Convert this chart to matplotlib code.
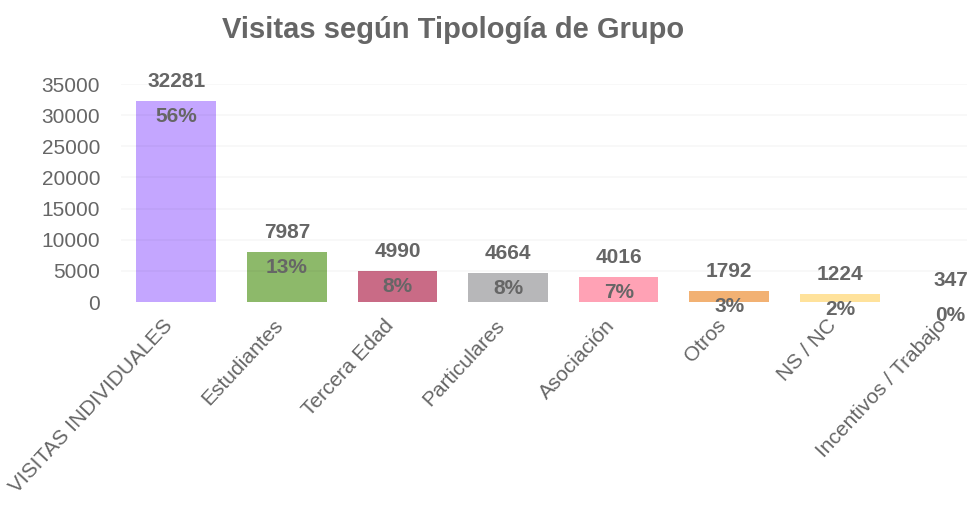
import matplotlib
matplotlib.use("Agg")
import matplotlib.pyplot as plt

plt.rcParams['font.family'] = ['Liberation Sans', 'DejaVu Sans']

categorias = ['VISITAS INDIVIDUALES', 'Estudiantes', 'Tercera Edad', 'Particulares',
              'Asociación', 'Otros', 'NS / NC', 'Incentivos / Trabajo']
visitas = [32281, 7987, 4990, 4664, 4016, 1792, 1224, 347]
porcentajes = ['56%', '13%', '8%', '8%', '7%', '3%', '2%', '0%']
colores = ['#C4A6FF', '#8DB96A', '#C96B86', '#B7B7B9', '#FFA2B5', '#F2B173', '#FFE29B', '#FFFFFF']
yticks = [0, 5000, 10000, 15000, 20000, 25000, 30000, 35000]

gris = '#666666'

fig = plt.figure(figsize=(9.67, 5.09), dpi=100)
ax = fig.add_axes([121 / 967, 207 / 509, (967 - 121) / 967, 218 / 509])

x = range(len(categorias))
ax.bar(x, visitas, width=0.72, color=colores, zorder=2)

# lineas de rejilla casi invisibles, solo se notan sobre las barras
for t in yticks[1:]:
    ax.axhline(t, color=(0, 0, 0, 0.03), lw=1.2, zorder=3)

for i, v in enumerate(visitas):
    ax.annotate(str(v), (i, v), xytext=(0, 14), textcoords='offset points',
                ha='center', va='center', fontsize=15, fontweight='bold',
                color=gris, annotation_clip=False)
    ax.annotate(porcentajes[i], (i, v), xytext=(0, -11), textcoords='offset points',
                ha='center', va='center', fontsize=15, fontweight='bold',
                color=gris, annotation_clip=False, zorder=4)

ax.set_xlim(-0.5, 7.15)
ax.set_ylim(0, 35000)
ax.set_yticks(yticks)
ax.set_yticklabels([str(t) for t in yticks], fontsize=15, color=gris)
ax.set_xticks(list(x))
ax.set_xticklabels(categorias, rotation=47, ha='right', fontsize=15, color=gris)
ax.tick_params(length=0, pad=10)
ax.tick_params(axis='y', pad=15)
for s in ax.spines.values():
    s.set_visible(False)

fig.text(453 / 967, 1 - 30 / 509, 'Visitas según Tipología de Grupo', ha='center', va='center',
         fontsize=21, fontweight='bold', color=gris)

fig.savefig('out.png', dpi=100)
